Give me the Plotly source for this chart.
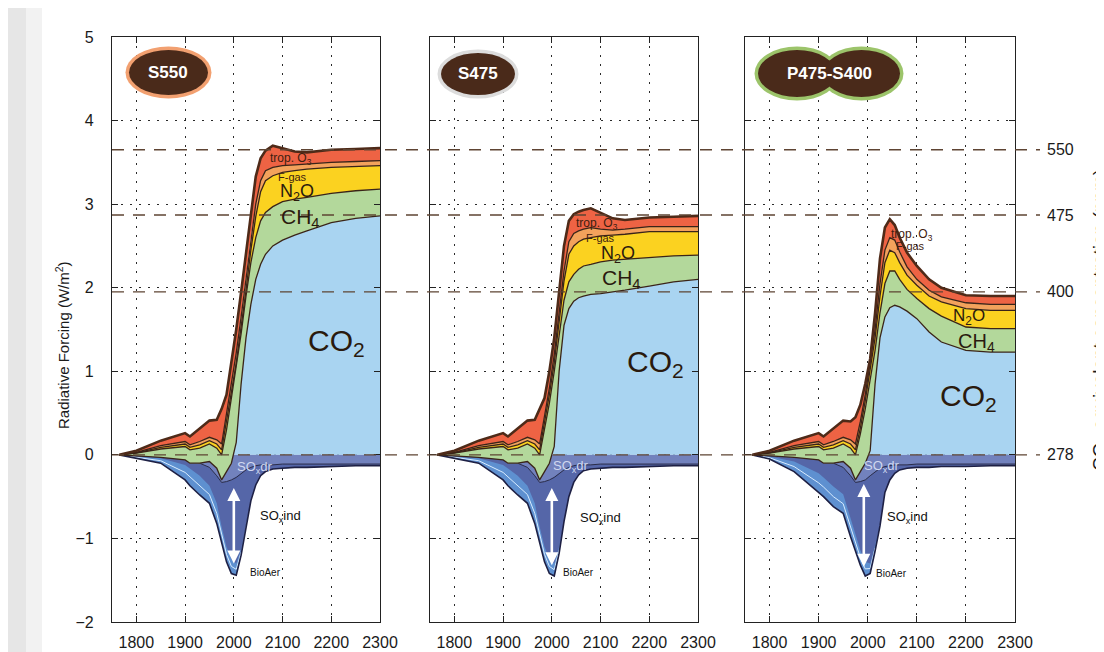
import plotly.graph_objects as go

# ---------------- data ----------------
years = [1765, 1800, 1850, 1900, 1910, 1930, 1950, 1965, 1975, 1985, 1995, 2005,
         2015, 2025, 2035, 2045, 2055, 2065, 2080, 2100, 2125, 2150, 2200, 2250, 2300]
baseline = [0.0] * len(years)

# cumulative upper boundaries of each positive band (W/m2)
s550_co2 = [0, -0.01, -0.03, -0.06, -0.1, -0.1, -0.08, -0.16, -0.3, -0.2, -0.1, 0.15,
            0.85, 1.4, 1.8, 2.1, 2.28, 2.4, 2.5, 2.57, 2.63, 2.68, 2.78, 2.83, 2.86]
s550_ch4 = [0, 0.02, 0.07, 0.1, 0.06, 0.08, 0.13, 0.08, 0.0, 0.3, 0.68, 1.05,
            1.45, 1.9, 2.3, 2.6, 2.8, 2.9, 2.97, 3.03, 3.06, 3.08, 3.13, 3.16, 3.18]
s550_n2o = [0, 0.025, 0.09, 0.13, 0.09, 0.12, 0.17, 0.13, 0.06, 0.38, 0.75, 1.1,
            1.52, 1.97, 2.45, 2.85, 3.15, 3.28, 3.34, 3.38, 3.4, 3.42, 3.44, 3.45, 3.46]
s550_fgas = [0, 0.03, 0.11, 0.16, 0.12, 0.16, 0.21, 0.18, 0.13, 0.48, 0.85, 1.22,
             1.65, 2.12, 2.6, 3.0, 3.28, 3.4, 3.44, 3.46, 3.47, 3.48, 3.5, 3.51, 3.52]
s550_o3 = [0, 0.05, 0.17, 0.26, 0.22, 0.32, 0.41, 0.42, 0.55, 0.72, 1.1, 1.5,
           1.95, 2.4, 2.9, 3.33, 3.55, 3.64, 3.70, 3.67, 3.63, 3.62, 3.65, 3.66, 3.67]
s550_soxdr = [0, -0.01, -0.02, -0.05, -0.06, -0.1, -0.15, -0.25, -0.33, -0.32, -0.3, -0.27,
              -0.22, -0.18, -0.15, -0.13, -0.12, -0.12, -0.12, -0.11, -0.11, -0.11, -0.11, -0.11, -0.11]
s550_bio_top = [0, -0.02, -0.04, -0.12, -0.16, -0.25, -0.37, -0.58, -0.86, -1.1, -1.25, -1.3,
                -1.13, -0.82, -0.54, -0.35, -0.25, -0.2, -0.17, -0.16, -0.15, -0.15, -0.14, -0.13, -0.13]
s550_aer = [0, -0.04, -0.1, -0.3, -0.37, -0.48, -0.58, -0.82, -1.05, -1.28, -1.42, -1.44,
            -1.2, -0.85, -0.55, -0.36, -0.25, -0.2, -0.17, -0.16, -0.15, -0.15, -0.14, -0.13, -0.13]

s475_co2 = [0, -0.01, -0.03, -0.06, -0.1, -0.1, -0.08, -0.16, -0.3, -0.2, -0.1, 0.1,
            1.0, 1.55, 1.75, 1.84, 1.88, 1.9, 1.92, 1.93, 1.95, 1.97, 2.02, 2.07, 2.1]
s475_ch4 = [0, 0.02, 0.07, 0.1, 0.06, 0.08, 0.13, 0.08, 0.0, 0.3, 0.62, 1.0,
            1.45, 1.85, 2.07, 2.16, 2.22, 2.26, 2.28, 2.31, 2.33, 2.34, 2.36, 2.38, 2.39]
s475_n2o = [0, 0.025, 0.09, 0.13, 0.09, 0.12, 0.17, 0.13, 0.06, 0.38, 0.72, 1.1,
            1.6, 2.08, 2.4, 2.5, 2.55, 2.58, 2.6, 2.62, 2.63, 2.64, 2.67, 2.67, 2.67]
s475_fgas = [0, 0.03, 0.11, 0.16, 0.12, 0.16, 0.21, 0.18, 0.13, 0.45, 0.8, 1.2,
             1.7, 2.2, 2.55, 2.65, 2.68, 2.7, 2.72, 2.7, 2.69, 2.7, 2.73, 2.73, 2.73]
s475_o3 = [0, 0.05, 0.17, 0.26, 0.22, 0.32, 0.41, 0.42, 0.55, 0.68, 1.0, 1.4,
           1.95, 2.5, 2.8, 2.88, 2.91, 2.93, 2.95, 2.9, 2.83, 2.81, 2.84, 2.85, 2.86]
s475_soxdr = [0, -0.01, -0.02, -0.05, -0.06, -0.1, -0.15, -0.25, -0.33, -0.32, -0.3, -0.27,
              -0.22, -0.18, -0.15, -0.13, -0.12, -0.12, -0.12, -0.11, -0.11, -0.11, -0.11, -0.11, -0.11]
s475_bio_top = [0, -0.02, -0.04, -0.12, -0.16, -0.25, -0.37, -0.58, -0.86, -1.1, -1.25, -1.3,
                -1.1, -0.78, -0.5, -0.33, -0.24, -0.19, -0.17, -0.16, -0.15, -0.15, -0.14, -0.13, -0.13]
s475_aer = [0, -0.04, -0.1, -0.3, -0.37, -0.48, -0.58, -0.82, -1.05, -1.28, -1.42, -1.45,
            -1.18, -0.8, -0.5, -0.33, -0.24, -0.19, -0.17, -0.16, -0.15, -0.15, -0.14, -0.13, -0.13]

p475_co2 = [0, -0.01, -0.03, -0.06, -0.1, -0.1, -0.08, -0.16, -0.3, -0.2, -0.1, 0.05,
            0.85, 1.4, 1.65, 1.76, 1.79, 1.77, 1.72, 1.63, 1.47, 1.35, 1.25, 1.23, 1.23]
p475_ch4 = [0, 0.02, 0.07, 0.1, 0.06, 0.08, 0.13, 0.08, 0.0, 0.25, 0.55, 0.9,
            1.25, 1.7, 2.05, 2.2, 2.2, 2.1, 1.98, 1.87, 1.75, 1.66, 1.53, 1.51, 1.51]
p475_n2o = [0, 0.025, 0.09, 0.13, 0.09, 0.12, 0.17, 0.13, 0.06, 0.32, 0.65, 1.0,
            1.4, 1.9, 2.3, 2.45, 2.42, 2.3, 2.15, 2.03, 1.9, 1.83, 1.75, 1.73, 1.73]
p475_fgas = [0, 0.03, 0.11, 0.16, 0.12, 0.16, 0.21, 0.18, 0.13, 0.4, 0.72, 1.1,
             1.5, 2.05, 2.45, 2.6, 2.57, 2.43, 2.25, 2.1, 1.97, 1.89, 1.82, 1.8, 1.8]
p475_o3 = [0, 0.05, 0.17, 0.26, 0.22, 0.32, 0.41, 0.4, 0.45, 0.6, 0.85, 1.15,
           1.7, 2.35, 2.72, 2.82, 2.75, 2.6, 2.42, 2.26, 2.1, 2.0, 1.91, 1.9, 1.9]
p475_soxdr = [0, -0.01, -0.02, -0.05, -0.06, -0.1, -0.15, -0.25, -0.33, -0.32, -0.3, -0.25,
              -0.2, -0.16, -0.14, -0.13, -0.12, -0.12, -0.12, -0.11, -0.11, -0.11, -0.11, -0.11, -0.11]
p475_bio_top = [0, -0.02, -0.08, -0.22, -0.27, -0.38, -0.47, -0.75, -0.95, -1.14, -1.28, -1.3,
                -1.08, -0.82, -0.44, -0.3, -0.22, -0.18, -0.16, -0.15, -0.15, -0.14, -0.14, -0.13, -0.13]
p475_aer = [0, -0.05, -0.2, -0.45, -0.5, -0.62, -0.7, -0.98, -1.15, -1.32, -1.45, -1.42,
            -1.15, -0.85, -0.45, -0.3, -0.22, -0.18, -0.16, -0.15, -0.15, -0.14, -0.14, -0.13, -0.13]

panel_names = ["S550", "S475", "P475-S400"]
x_ticks = [1800, 1900, 2000, 2100, 2200, 2300]
y_ticks = [-2, -1, 0, 1, 2, 3, 4, 5]
ref_levels = [3.65, 2.87, 1.95, 0.0]          # forcing of the CO2-eq concentrations
ref_labels = ["550", "475", "400", "278"]

# ---------------- styling / layout ----------------
W, H = 1104, 652
OFF = 8                      # page body margin: screen px -> figure px
FONT = "Liberation Sans, Arial, sans-serif"
PX = [(112, 380), (430, 698), (745, 1015)]   # screen px of the panel borders
TOP, BOT = 37, 622


def fx(sx):
    return (sx - OFF) / W


def fy(sy):
    return 1 - (sy - OFF) / H


C_CO2, C_CH4, C_N2O, C_FGAS, C_O3 = "#a9d4f1", "#b3d89b", "#fbd220", "#f3a25c", "#ee6344"
C_IND, C_BIO, C_DR = "#5566a8", "#5e90d0", "#7282bd"
C_EDGE, C_TOP = "#3a2418", "#4e2a18"

panels = [
    dict(co2=s550_co2, ch4=s550_ch4, n2o=s550_n2o, fgas=s550_fgas, o3=s550_o3,
         dr=s550_soxdr, bio=s550_bio_top, aer=s550_aer),
    dict(co2=s475_co2, ch4=s475_ch4, n2o=s475_n2o, fgas=s475_fgas, o3=s475_o3,
         dr=s475_soxdr, bio=s475_bio_top, aer=s475_aer),
    dict(co2=p475_co2, ch4=p475_ch4, n2o=p475_n2o, fgas=p475_fgas, o3=p475_o3,
         dr=p475_soxdr, bio=p475_bio_top, aer=p475_aer),
]

fig = go.Figure()


def band(xa, ya, upper, lower, color):
    fig.add_trace(go.Scatter(x=years + years[::-1], y=upper + lower[::-1], fill="toself",
                             fillcolor=color, mode="lines", line=dict(width=0),
                             xaxis=xa, yaxis=ya, hoverinfo="skip", showlegend=False))


def line(xa, ya, yv, color, width, xs=None):
    fig.add_trace(go.Scatter(x=xs if xs is not None else years, y=yv, mode="lines",
                             line=dict(color=color, width=width), xaxis=xa, yaxis=ya,
                             hoverinfo="skip", showlegend=False))


for i, p in enumerate(panels):
    xa = "x" if i == 0 else f"x{i+1}"
    ya = "y" if i == 0 else f"y{i+1}"
    # aerosols (negative)
    band(xa, ya, baseline, p["aer"], C_IND)
    band(xa, ya, p["bio"], p["aer"], C_BIO)
    mid = [(a + b) / 2 for a, b in zip(p["bio"], p["aer"])]
    n_mid = sum(1 for y in years if y <= 2015)
    line(xa, ya, mid[:n_mid], "#d8ecff", 1, xs=years[:n_mid])
    band(xa, ya, baseline, p["dr"], C_DR)
    line(xa, ya, p["dr"], "#2a2c48", 1)
    line(xa, ya, p["aer"], "#1e2044", 1.6)
    # greenhouse gases (positive)
    fig.add_trace(go.Scatter(x=years, y=p["co2"], fill="tozeroy", fillcolor=C_CO2,
                             mode="lines", line=dict(width=0), xaxis=xa, yaxis=ya,
                             hoverinfo="skip", showlegend=False))
    band(xa, ya, p["ch4"], p["co2"], C_CH4)
    band(xa, ya, p["n2o"], p["ch4"], C_N2O)
    band(xa, ya, p["fgas"], p["n2o"], C_FGAS)
    band(xa, ya, p["o3"], p["fgas"], C_O3)
    for key in ["co2", "ch4", "n2o", "fgas"]:
        line(xa, ya, p[key], C_EDGE, 1.3)
    line(xa, ya, p["o3"], C_TOP, 2.6)

layout = dict(width=W, height=H, margin=dict(l=0, r=0, t=0, b=0),
              paper_bgcolor="white", plot_bgcolor="rgba(0,0,0,0)",
              font=dict(family=FONT, color="#1a1a1a"), showlegend=False)

for i, (x0, x1) in enumerate(PX):
    sx = "" if i == 0 else str(i + 1)
    layout["xaxis" + sx] = dict(
        domain=[fx(x0), fx(x1)], range=[1750, 2300], anchor="y" + sx,
        tickvals=x_ticks, ticktext=[str(t) for t in x_ticks],
        ticks="inside", ticklen=6, tickcolor="#222", showline=True, linecolor="#222",
        linewidth=1.3, mirror="ticks", showgrid=True, gridcolor="#2a2a2a",
        griddash="2px,7px", gridwidth=1.2, zeroline=False,
        tickfont=dict(size=16, color="#1a1a1a", family=FONT), ticklabelstandoff=6,
        automargin=False)
    layout["yaxis" + sx] = dict(
        domain=[fy(BOT), fy(TOP)], range=[-2, 5], anchor="x" + sx,
        tickvals=y_ticks, ticks="inside", ticklen=6, tickcolor="#222", showline=True,
        linecolor="#222", linewidth=1.3, mirror="ticks", showgrid=True,
        gridcolor="#2a2a2a", griddash="2px,7px", gridwidth=1.2, zeroline=False,
        showticklabels=(i == 0), tickfont=dict(size=16, color="#1a1a1a", family=FONT),
        ticklabelstandoff=14, automargin=False)

shapes = []
# scanned-page shading at the left edge
shapes.append(dict(type="rect", xref="paper", yref="paper", x0=0, x1=fx(26), y0=0, y1=1,
                   fillcolor="#e6e6e6", line=dict(width=0), layer="below"))
shapes.append(dict(type="rect", xref="paper", yref="paper", x0=fx(26), x1=fx(42), y0=0, y1=1,
                   fillcolor="#f2f2f2", line=dict(width=0), layer="below"))
# dashed CO2-eq reference lines across all panels
for lv in ref_levels:
    shapes.append(dict(type="line", xref="paper", yref="y", x0=fx(PX[0][0]), x1=fx(1040),
                       y0=lv, y1=lv, line=dict(color="#5e4433", width=1.4, dash="12px,9px"),
                       layer="above"))


def ellipse(xl, xr, yt, yb, color, grow):
    shapes.append(dict(type="circle", xref="paper", yref="paper",
                       x0=fx(xl - grow), x1=fx(xr + grow), y0=fy(yb + grow), y1=fy(yt - grow),
                       fillcolor=color, line=dict(width=0), layer="above"))


badges = [
    ([(129, 208, 50, 95)], "#f2a070"),
    ([(441, 515, 53, 95)], "#dcdcdc"),
    ([(758, 836, 50, 97), (823, 900, 50, 97)], "#9cc46a"),
]
for ells, ring in badges:
    for (xl, xr, yt, yb) in ells:
        ellipse(xl, xr, yt, yb, ring, 3.5)
    for (xl, xr, yt, yb) in ells:
        ellipse(xl, xr, yt, yb, "#4a2a1a", 0)

layout["shapes"] = shapes

ann = []
badge_centres = [(168, 73), (478, 74), (829, 74)]
for i, (cx, cy) in enumerate(badge_centres):
    ann.append(dict(text="<b>" + panel_names[i] + "</b>", xref="paper", yref="paper",
                    x=fx(cx), y=fy(cy), xanchor="center", yanchor="middle", showarrow=False,
                    font=dict(size=17, color="white", family=FONT)))

label_specs = [
    # (panel, text, year, value, size, color)
    (0, "trop. O<sub>3</sub>", 2118, 3.54, 12, "#3d2010"),
    (0, "F-gas", 2120, 3.32, 11, "#3d2010"),
    (0, "N<sub>2</sub>O", 2130, 3.14, 18, "#2a1a0e"),
    (0, "CH<sub>4</sub>", 2137, 2.83, 21, "#2a1a0e"),
    (0, "CO<sub>2</sub>", 2210, 1.35, 30, "#2a1a0e"),
    (0, "SO<sub>x</sub>dr", 2044, -0.15, 13, "#d0d8f0"),
    (0, "SO<sub>x</sub>ind", 2096, -0.74, 13, "#111111"),
    (0, "BioAer", 2064, -1.41, 10, "#111111"),
    (1, "trop. O<sub>3</sub>", 2092, 2.76, 12, "#3d2010"),
    (1, "F-gas", 2100, 2.6, 11, "#3d2010"),
    (1, "N<sub>2</sub>O", 2135, 2.4, 18, "#2a1a0e"),
    (1, "CH<sub>4</sub>", 2143, 2.11, 21, "#2a1a0e"),
    (1, "CO<sub>2</sub>", 2212, 1.09, 30, "#2a1a0e"),
    (1, "SO<sub>x</sub>dr", 2040, -0.14, 13, "#d0d8f0"),
    (1, "SO<sub>x</sub>ind", 2100, -0.76, 13, "#111111"),
    (1, "BioAer", 2055, -1.41, 10, "#111111"),
    (2, "trop. O<sub>3</sub>", 2090, 2.63, 12, "#3d2010"),
    (2, "F-gas", 2088, 2.5, 11, "#3d2010"),
    (2, "N<sub>2</sub>O", 2206, 1.65, 17, "#2a1a0e"),
    (2, "CH<sub>4</sub>", 2222, 1.35, 20, "#2a1a0e"),
    (2, "CO<sub>2</sub>", 2206, 0.69, 30, "#2a1a0e"),
    (2, "SO<sub>x</sub>dr", 2030, -0.14, 13, "#d0d8f0"),
    (2, "SO<sub>x</sub>ind", 2082, -0.75, 13, "#111111"),
    (2, "BioAer", 2048, -1.42, 10, "#111111"),
]
for i, txt, xv, yv, sz, col in label_specs:
    sx = "" if i == 0 else str(i + 1)
    ann.append(dict(text=txt, xref="x" + sx, yref="y" + sx, x=xv, y=yv, showarrow=False,
                    xanchor="center", yanchor="middle",
                    font=dict(size=sz, color=col, family=FONT)))

arrow_specs = [(0, 2000, -0.38, -1.3), (1, 2000, -0.38, -1.32), (2, 1992, -0.33, -1.34)]
for i, xv, y_top, y_bot in arrow_specs:
    sx = "" if i == 0 else str(i + 1)
    ann.append(dict(text="", xref="x" + sx, yref="y" + sx, x=xv, y=y_bot,
                    axref="x" + sx, ayref="y" + sx, ax=xv, ay=y_top, showarrow=True,
                    arrowhead=2, arrowside="end+start", arrowsize=1, arrowwidth=2.6,
                    arrowcolor="white"))

for lv, lab in zip(ref_levels, ref_labels):
    ann.append(dict(text=lab, xref="paper", yref="y", x=fx(1045), y=lv, xanchor="left",
                    yanchor="middle", showarrow=False,
                    font=dict(size=16, color="#1a1a1a", family=FONT)))

ann.append(dict(text="Radiative Forcing (W/m<sup>2</sup>)", xref="paper", yref="paper",
                x=fx(62), y=fy(345), xanchor="center", yanchor="middle", textangle=-90,
                showarrow=False, font=dict(size=15, color="#1a1a1a", family=FONT)))
ann.append(dict(text="CO<sub>2</sub> equivalent concentration (ppm)", xref="paper",
                yref="paper", x=fx(1101), y=fy(320), xanchor="center", yanchor="middle",
                textangle=-90, showarrow=False,
                font=dict(size=19, color="#1a1a1a", family=FONT)))

layout["annotations"] = ann
fig.update_layout(**layout)
fig.write_html("out.html")
